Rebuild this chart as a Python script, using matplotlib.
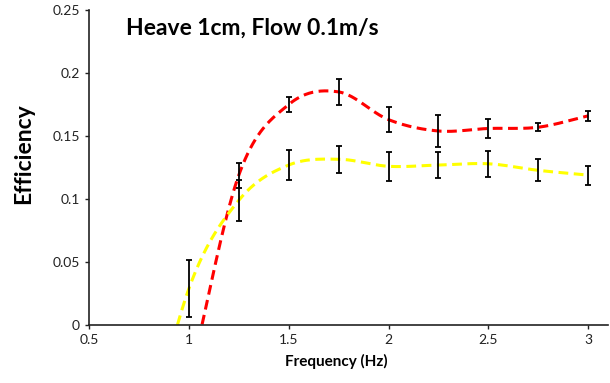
import matplotlib.pyplot as plt
import numpy as np

plt.rcParams['font.family'] = ['Lato', 'DejaVu Sans']

# frequency (Hz) and efficiency per series; 0.75 Hz values sit below the axis
freq = [0.75, 1.0, 1.25, 1.5, 1.75, 2.0, 2.25, 2.5, 2.75, 3.0]
eff_red = [-0.20, -0.045, 0.119, 0.175, 0.185, 0.163, 0.154, 0.156, 0.157, 0.166]
err_red = [0.01, 0.01, 0.010, 0.006, 0.010, 0.010, 0.0125, 0.0075, 0.003, 0.0037]
eff_yellow = [-0.12, 0.029, 0.099, 0.127, 0.1316, 0.126, 0.127, 0.128, 0.1228, 0.119]
err_yellow = [0.01, 0.0227, 0.016, 0.0117, 0.0107, 0.0115, 0.0105, 0.0105, 0.0088, 0.0075]

xticks = [0.5, 1, 1.5, 2, 2.5, 3]
xtick_labels = ['0.5', '1', '1.5', '2', '2.5', '3']
yticks = [0, 0.05, 0.1, 0.15, 0.2, 0.25]
ytick_labels = ['0', '0.05', '0.1', '0.15', '0.2', '0.25']


def smooth(x, y, n=40):
    # Catmull-Rom style smoothing, like a spreadsheet "smoothed line"
    x = np.asarray(x, float)
    y = np.asarray(y, float)
    px = np.concatenate([[2 * x[0] - x[1]], x, [2 * x[-1] - x[-2]]])
    py = np.concatenate([[2 * y[0] - y[1]], y, [2 * y[-1] - y[-2]]])
    t = np.linspace(0, 1, n)
    xs, ys = [], []
    for i in range(1, len(px) - 2):
        p0, p1, p2, p3 = [np.array([px[j], py[j]]) for j in range(i - 1, i + 3)]
        c1 = p1 + (p2 - p0) / 6
        c2 = p2 - (p3 - p1) / 6
        b = ((1 - t) ** 3)[:, None] * p1 + (3 * (1 - t) ** 2 * t)[:, None] * c1 \
            + (3 * (1 - t) * t ** 2)[:, None] * c2 + (t ** 3)[:, None] * p2
        xs.append(b[:, 0])
        ys.append(b[:, 1])
    return np.concatenate(xs), np.concatenate(ys)


fig = plt.figure(figsize=(6.1, 3.83), dpi=100)
ax = fig.add_axes([0.146, 0.151, 0.851, 0.823])

for vals, errs, col in [(eff_red, err_red, '#ff0000'), (eff_yellow, err_yellow, '#ffff00')]:
    sx, sy = smooth(freq, vals)
    ax.plot(sx, sy, color=col, lw=2.2, dashes=(3.2, 1.8), zorder=2)
    ax.errorbar(freq, vals, yerr=errs, fmt='none', ecolor='black',
                elinewidth=1.3, capsize=2, capthick=1.3, zorder=3)

ax.set_xlim(0.5, 3.1)
ax.set_ylim(0, 0.25)
ax.set_xticks(xticks)
ax.set_xticklabels(xtick_labels)
ax.set_yticks(yticks)
ax.set_yticklabels(ytick_labels)
ax.tick_params(direction='out', length=3, width=1, labelsize=10, colors='#222222')
for s in ['top', 'right']:
    ax.spines[s].set_visible(False)
for s in ['left', 'bottom']:
    ax.spines[s].set_color('#222222')
    ax.spines[s].set_linewidth(1.2)

fig.text(0.206, 0.909, 'Heave 1cm, Flow 0.1m/s', fontsize=16.5, fontweight='bold',
         va='baseline', ha='left')
fig.text(0.038, 0.60, 'Efficiency', fontsize=16.5, fontweight='bold',
         rotation=90, va='center', ha='center')
fig.text(0.552, 0.055, 'Frequency (Hz)', fontsize=11, fontweight='bold',
         va='center', ha='center')

fig.savefig('out.png', dpi=100)
